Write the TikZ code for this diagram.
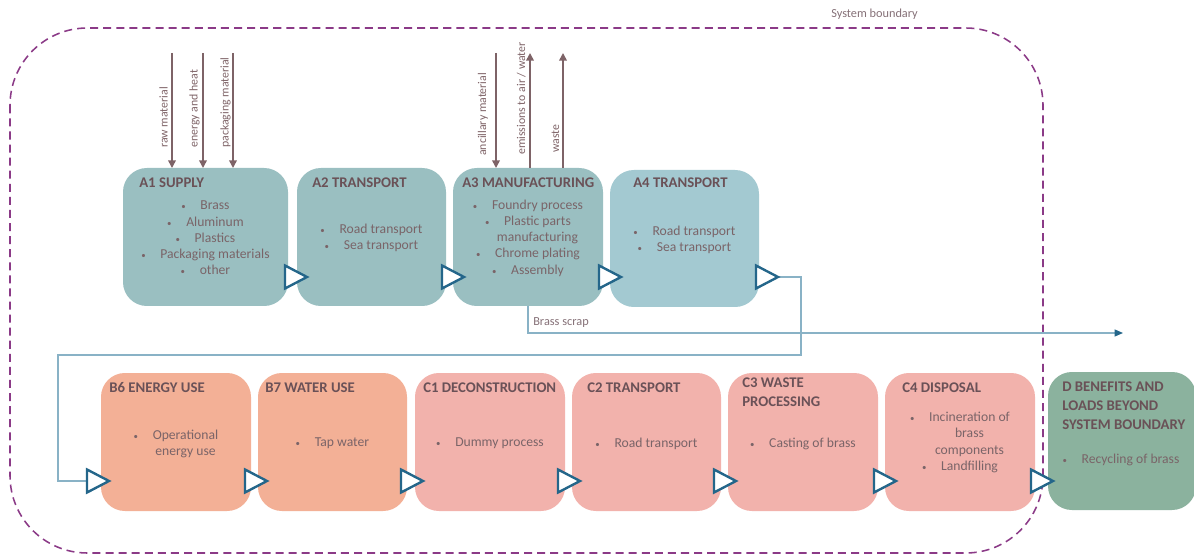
\documentclass[tikz,border=0pt]{standalone}
\usepackage{fontspec}
\usepackage{graphicx}
\setmainfont{Carlito}
\usetikzlibrary{fit,arrows.meta,calc}
\definecolor{cA}{HTML}{9ABFC1}
\definecolor{cAf}{HTML}{A3C9D1}
\definecolor{cB}{HTML}{F3B096}
\definecolor{cC}{HTML}{F2B2AC}
\definecolor{cD}{HTML}{8BB29E}
\definecolor{ttl}{HTML}{6A5157}
\definecolor{txt}{HTML}{7A6468}
\definecolor{lbl}{HTML}{857077}
\definecolor{inar}{HTML}{7E6367}
\definecolor{conn}{HTML}{89B2C6}
\definecolor{tri}{HTML}{24668A}
\definecolor{bnd}{HTML}{8B3A87}
\newcommand\bul{\makebox[3pt]{\scalebox{0.65}{\textbullet}}\hspace{10.5pt}}
\newcommand\bcont[1]{\phantom{\bul}#1}
\begin{document}
\begin{tikzpicture}[x=0.025cm,y=-0.025cm,
 box/.style={rounded corners=17pt, inner sep=0pt, outer sep=0pt, draw=none},
 ttlst/.style={inner sep=0pt, text=ttl, font=\fontsize{10.5pt}{13.2pt}\selectfont\bfseries, align=left},
 bodyst/.style={inner sep=0pt, text=txt, font=\fontsize{9.7pt}{11.6pt}\selectfont, align=center},
 inarrow/.style={draw=inar, line width=1.1pt, -{Triangle[length=5.5pt,width=5.5pt]}},
 inlbl/.style={inner sep=0pt, rotate=90, anchor=base west, text=inar, font=\fontsize{8.4pt}{10pt}\selectfont},
 trist/.style={draw=tri, line width=1.7pt, fill=white, line join=miter},
 connst/.style={draw=conn, line width=0.8pt},
 smalllbl/.style={inner sep=0pt, anchor=base west, text=lbl, font=\fontsize{8.75pt}{10pt}\selectfont},
 bndst/.style={draw=bnd, line width=1.1pt, dash pattern=on 5.7pt off 3.6pt, rounded corners=55pt}
]
\useasboundingbox (0,0) rectangle (1194,556);

% system boundary
\draw[bndst] (10,28) rectangle (1043,553);
\node[smalllbl] (sbl) at (831,18) {System boundary};

% boxes
\node[box, fill=cA,  fit={(123,168) (288,306)}] (A1) {};
\node[box, fill=cA,  fit={(297,168) (446,306)}] (A2) {};
\node[box, fill=cA,  fit={(453,168) (603,306)}] (A3) {};
\node[box, fill=cAf, fit={(610,170) (759,307)}] (A4) {};
\node[box, fill=cB,  fit={(101,373) (251,511)}] (B6) {};
\node[box, fill=cB,  fit={(258,373) (407,511)}] (B7) {};
\node[box, fill=cC,  fit={(415,373) (565,511)}] (C1) {};
\node[box, fill=cC,  fit={(572,373) (721,511)}] (C2) {};
\node[box, fill=cC,  fit={(728,373) (878,511)}] (C3) {};
\node[box, fill=cC,  fit={(885,373) (1035,511)}] (C4) {};
\node[box, fill=cD,  fit={(1048,372) (1196,510)}] (D) {};

% titles
\node[ttlst, anchor=west] (A1t) at (139,183) {A1 SUPPLY};
\node[ttlst, anchor=west] (A2t) at (312,183) {A2 TRANSPORT};
\node[ttlst, anchor=west] (A3t) at (462,183) {A3 MANUFACTURING};
\node[ttlst, anchor=west] (A4t) at (633,183) {A4 TRANSPORT};
\node[ttlst, anchor=west] (B6t) at (109,388) {B6 ENERGY USE};
\node[ttlst, anchor=west] (B7t) at (265,388) {B7 WATER USE};
\node[ttlst, anchor=west] (C1t) at (423,388) {C1 DECONSTRUCTION};
\node[ttlst, anchor=west] (C2t) at (587,388) {C2 TRANSPORT};
\node[ttlst, anchor=north west] (C3t) at (742,378) {C3 WASTE\\PROCESSING};
\node[ttlst, anchor=west] (C4t) at (902,388) {C4 DISPOSAL};
\node[ttlst, anchor=north west] (Dt) at (1062,382) {D BENEFITS AND\\LOADS BEYOND\\SYSTEM BOUNDARY};

% bodies
\node[bodyst] (A1b) at (205.5,238) {\bul Brass\\\bul Aluminum\\\bul Plastics\\\bul Packaging materials\\\bul other};
\node[bodyst] (A2b) at (371.5,238) {\bul Road transport\\\bul Sea transport};
\node[bodyst] (A3b) at (528,238) {\bul Foundry process\\\bul Plastic parts\\\bcont{manufacturing}\\\bul Chrome plating\\\bul Assembly};
\node[bodyst] (A4b) at (684.5,240) {\bul Road transport\\\bul Sea transport};
\node[bodyst] (B6b) at (176,444) {\bul Operational\\\bcont{energy use}};
\node[bodyst] (B7b) at (332.5,443.5) {\bul Tap water};
\node[bodyst] (C1b) at (490,443.5) {\bul Dummy process};
\node[bodyst] (C2b) at (646.5,443.5) {\bul Road transport};
\node[bodyst] (C3b) at (803,443.5) {\bul Casting of brass};
\node[bodyst] (C4b) at (960,442.5) {\bul Incineration of\\\bcont{brass}\\\bcont{components}\\\bul Landfilling};
\node[bodyst] (Db) at (1121,459.5) {\bul Recycling of brass};

% input / output arrows
\coordinate (i1) at (172,53);
\coordinate (i2) at (203,53);
\coordinate (i3) at (233,53);
\coordinate (i4) at (496,53);
\coordinate (o1) at (530,53);
\coordinate (o2) at (563,53);
\draw[inarrow] (i1) -- (i1 |- A1.north);
\draw[inarrow] (i2) -- (i2 |- A1.north);
\draw[inarrow] (i3) -- (i3 |- A1.north);
\draw[inarrow] (i4) -- (i4 |- A3.north);
\draw[inarrow] (o1 |- A3.north) -- (o1);
\draw[inarrow] (o2 |- A3.north) -- (o2);
\node[inlbl] (l1) at (167.5,148) {raw material};
\node[inlbl] (l2) at (197.5,148) {energy and heat};
\node[inlbl] (l3) at (228.5,148) {packaging material};
\node[inlbl] (l4) at (486,156) {ancillary material};
\node[inlbl] (l5) at (525,155) {emissions to air / water};
\node[inlbl] (l6) at (559,153) {waste};

% connectors
\coordinate (A4out) at (778,277);
\coordinate (B6in) at (87,481);
\draw[connst] (A4out) -- (801,277) -- (801,355) -- (58,355) |- (B6in);
\coordinate (scrap) at (1123,333);
\draw[connst, -{Triangle[length=6pt,width=5pt,color=tri]}] (A3.south) |- (scrap);
\node[smalllbl] (bs) at (533,326) {Brass scrap};

% flow triangles
\foreach \x/\y in {285/277, 442/277, 599/277, 756/277,
                   87/481, 245/481, 401/481, 558/481, 714/481, 874/481, 1031/481}
  \draw[trist] (\x,\y-11.5) -- (\x+22,\y) -- (\x,\y+11.5) -- cycle;
\end{tikzpicture}
\end{document}
